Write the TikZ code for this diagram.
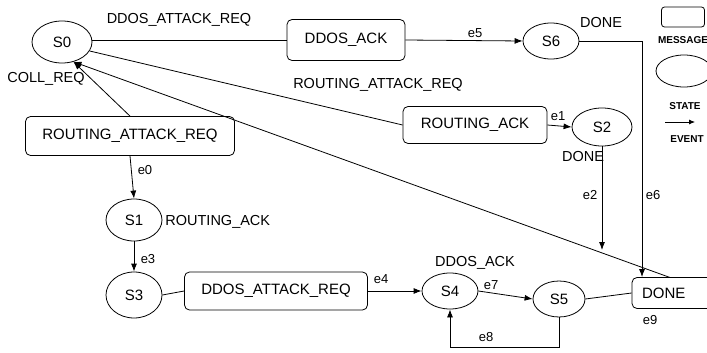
\documentclass[tikz,border=0pt]{standalone}
\usepackage{fontspec}
\setmainfont{Liberation Sans}
\usetikzlibrary{arrows.meta,shapes.geometric}
\begin{document}
\begin{tikzpicture}[x=1pt,y=-1pt,
  line width=0.8pt,
  state/.style={draw,ellipse,inner sep=0pt,font=\fontsize{15}{17}\selectfont},
  msg/.style={draw,rounded corners=5pt,inner sep=0pt,font=\fontsize{15}{17}\selectfont},
  lbl/.style={font=\fontsize{14.5}{16}\selectfont,inner sep=1pt},
  ev/.style={font=\fontsize{13}{15}\selectfont,inner sep=1pt},
  leg/.style={font=\bfseries\fontsize{10}{12}\selectfont,inner sep=0pt},
  arr/.style={-{Latex[length=8pt,width=6pt]}}]
\useasboundingbox (0,0) rectangle (707,353);

% states
\node[state,minimum width=60pt,minimum height=42pt] (s0) at (62,42) {S0};
\node[state,minimum width=56pt,minimum height=36pt] (s6) at (551,41) {S6};
\node[state,minimum width=60pt,minimum height=38pt] (s2) at (602,127) {S2};
\node[state,minimum width=56pt,minimum height=42pt] (s1) at (134,220) {S1};
\node[state,minimum width=56pt,minimum height=46pt] (s3) at (134,295) {S3};
\node[state,minimum width=56pt,minimum height=36pt] (s4) at (450,291) {S4};
\node[state,minimum width=52pt,minimum height=36pt] (s5) at (559,299) {S5};

% messages
\node[msg,minimum width=118pt,minimum height=41pt] (ddosack) at (346,40) {DDOS\_ACK};
\node[msg,minimum width=144pt,minimum height=37pt] (rack) at (475,125) {ROUTING\_ACK};
\node[msg,minimum width=209pt,minimum height=39pt] (rreq) at (130,136) {ROUTING\_ATTACK\_REQ};
\node[msg,minimum width=183pt,minimum height=38pt] (dreq) at (276,291) {DDOS\_ATTACK\_REQ};
\node[msg,minimum width=120pt,minimum height=31pt,text width=120pt,align=left,inner xsep=0pt] (done) at (692,293) {\hspace*{10pt}DONE};

% connectors
\draw (s0.east |- ddosack.west) -- (ddosack.west);
\draw[arr] (ddosack.east) -- (s6.west);
\coordinate (c6) at (642,41);
\draw[arr] (s6.east) -- (c6) -- (c6 |- done.north);
\coordinate (dn) at (670,277.5);
\draw (s0.-18) -- (rack.west);
\draw[arr] (rack.east) -- (s2.west);
\draw[arr] (s2.south) -- (s2.south |- 0,250);
\draw[arr] (dn) -- (s0.-60);
\draw[arr] (rreq.north) -- (s0.-60);
\draw[arr] (rreq.south) -- (s1.north);
\draw[arr] (s1.south) -- (s3.north);
\draw (s3.east) -- (dreq.west);
\draw[arr] (dreq.east) -- (s4.west);
\draw[arr] (s4.east) -- (s5.west);
\draw (s5.east) -- (done.west);
\coordinate (lb) at (559,347);
\draw[arr] (s5.south) -- (lb) -- (s4.south |- lb) -- (s4.south);

% labels
\node[lbl] (t1) at (179,20) {DDOS\_ATTACK\_REQ};
\node[lbl] (t2) at (46,79) {COLL\_REQ};
\node[lbl] (t3) at (378,85) {ROUTING\_ATTACK\_REQ};
\node[lbl] (t4) at (601,23) {DONE};
\node[lbl] (t5) at (583,157) {DONE};
\node[lbl,anchor=west] (t6) at (164,222) {ROUTING\_ACK};
\node[lbl] (t7) at (475,263) {DDOS\_ACK};
\node[ev] (e0) at (145,170) {e0};
\node[ev] (e1) at (558,116) {e1};
\node[ev] (e2) at (590,195) {e2};
\node[ev] (e3) at (148,259) {e3};
\node[ev] (e4) at (381,279) {e4};
\node[ev] (e5) at (475,33) {e5};
\node[ev] (e6) at (653,195) {e6};
\node[ev] (e7) at (491,285) {e7};
\node[ev] (e8) at (486,337) {e8};
\node[ev] (e9) at (650,320) {e9};

% legend
\node[draw,rounded corners=3pt,minimum width=43pt,minimum height=20pt,inner sep=0pt] (lmsg) at (683,17) {};
\node[leg] (lmsgt) at (683,40) {MESSAGE};
\node[draw,ellipse,minimum width=56pt,minimum height=32pt,inner sep=0pt] (lst) at (684,71) {};
\node[leg] (lstt) at (685,106) {STATE};
\coordinate (la) at (665,122);
\coordinate (lb2) at (695,122);
\draw[-{Latex[length=6pt,width=5pt]}] (la) -- (lb2);
\node[leg] (levt) at (687,139) {EVENT};
\end{tikzpicture}
\end{document}
